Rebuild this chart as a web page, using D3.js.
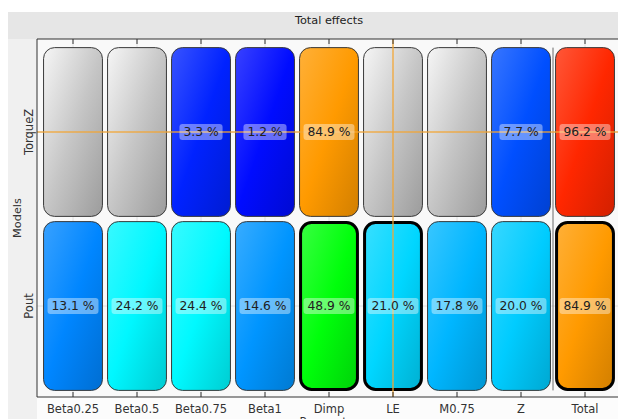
<!DOCTYPE html>
<html>
<head>
<meta charset="utf-8">
<script src="https://cdn.jsdelivr.net/npm/d3@7"></script>
<style>
  html, body { margin: 0; padding: 0; background: #ffffff; }
  svg { display: block; font-family: "DejaVu Sans", Verdana, sans-serif; }
</style>
</head>
<body>
<svg id="chart" width="618" height="419"></svg>
<script>
// Parameters on the horizontal axis, models on the vertical axis
const parameters = ["Beta0.25", "Beta0.5", "Beta0.75", "Beta1", "Dimp", "LE", "M0.75", "Z", "Total"];
const models = ["TorqueZ", "Pout"];

// Total-effect share (%) per parameter; null = not significant (grey cell)
const torqueZValues = [null, null, 3.3, 1.2, 84.9, null, null, 7.7, 96.2];
const poutValues = [13.1, 24.2, 24.4, 14.6, 48.9, 21.0, 17.8, 20.0, 84.9];

// Cells marked as selected (drawn with a heavy outline)
const torqueZSelected = [false, false, false, false, false, false, false, false, false];
const poutSelected = [false, false, false, false, true, true, false, false, true];

// Cursor position (crosshair)
const cursorParameter = "LE";
const cursorModel = "TorqueZ";

const valuesByModel = { TorqueZ: torqueZValues, Pout: poutValues };
const selectedByModel = { TorqueZ: torqueZSelected, Pout: poutSelected };

const cells = [];
models.forEach(m => {
  parameters.forEach((p, i) => {
    cells.push({ model: m, parameter: p, value: valuesByModel[m][i], selected: selectedByModel[m][i] });
  });
});

const svg = d3.select("#chart");
const W = 618, H = 419;

const frame = { left: 37, top: 39, right: 618, bottom: 397 };

// Background panels
svg.append("rect").attr("x", 8).attr("y", 12).attr("width", W - 8).attr("height", H - 12).attr("fill", "#ececec");
svg.append("rect").attr("x", 8).attr("y", 12).attr("width", W - 8).attr("height", frame.top - 12).attr("fill", "#e6e6e6");
svg.append("rect").attr("x", 8).attr("y", frame.top).attr("width", frame.left - 8).attr("height", H - frame.top).attr("fill", "#f0f0f0");
svg.append("rect").attr("x", frame.left).attr("y", frame.top).attr("width", frame.right - frame.left).attr("height", frame.bottom - frame.top).attr("fill", "#f9f9f9");
svg.append("rect").attr("x", frame.left).attr("y", frame.bottom).attr("width", frame.right - frame.left).attr("height", H - frame.bottom).attr("fill", "#fcfcfc");

// Scales
const x = d3.scaleBand().domain(parameters).range([41, 617]).paddingInner(0.08).paddingOuter(0.04);
const y = d3.scaleBand().domain(models).range([45, 393]).paddingInner(0.03).paddingOuter(0.015);
const xc = p => x(p) + x.bandwidth() / 2;
const yc = m => y(m) + y.bandwidth() / 2;

// Jet-like colour map over 0..100 %
const color = d3.scaleLinear()
  .domain([0, 25, 50, 75, 100])
  .range(["#0000ff", "#00ffff", "#00ff00", "#ffff00", "#ff0000"])
  .interpolate(d3.interpolateRgb)
  .clamp(true);
const emptyColor = "#c6c6c6";

// Faint grid through row and column centres
const grid = svg.append("g").attr("stroke", "#e0e0e0").attr("stroke-width", 1);
models.forEach(m => grid.append("line").attr("x1", frame.left).attr("x2", frame.right).attr("y1", yc(m)).attr("y2", yc(m)));
parameters.forEach(p => grid.append("line").attr("x1", xc(p)).attr("x2", xc(p)).attr("y1", frame.top).attr("y2", frame.bottom));

// Per-cell gradients: light at the upper left, darker at the lower right
const defs = svg.append("defs");
cells.forEach((d, i) => {
  const base = d.value == null ? emptyColor : color(d.value);
  const g = defs.append("linearGradient").attr("id", "cell-grad-" + i)
    .attr("x1", 0).attr("y1", 0).attr("x2", 1).attr("y2", 1);
  const light = d.value == null ? "#f6f6f6" : d3.interpolateRgb(base, "#ffffff")(0.22);
  const dark = d.value == null ? "#9c9c9c" : d3.color(base).darker(0.55).formatHex();
  g.append("stop").attr("offset", "0%").attr("stop-color", light);
  g.append("stop").attr("offset", "50%").attr("stop-color", base);
  g.append("stop").attr("offset", "100%").attr("stop-color", dark);
  d.grad = "url(#cell-grad-" + i + ")";
});

// Cells
svg.append("g").selectAll("rect").data(cells).join("rect")
  .attr("x", d => x(d.parameter) + (d.selected ? 1 : 0))
  .attr("y", d => y(d.model) + (d.selected ? 1 : 0))
  .attr("width", d => x.bandwidth() - (d.selected ? 2 : 0))
  .attr("height", d => y.bandwidth() - (d.selected ? 2 : 0))
  .attr("rx", 11).attr("ry", 11)
  .attr("fill", d => d.grad)
  .attr("stroke", d => d.selected ? "#000000" : "#3a3a3a")
  .attr("stroke-width", d => d.selected ? 3 : 1);

// Separator before the Total column
const sepX = (x("Z") + x.bandwidth() + x("Total")) / 2;
svg.append("line")
  .attr("x1", sepX).attr("x2", sepX)
  .attr("y1", y(models[0])).attr("y2", y(models[1]) + y.bandwidth())
  .attr("stroke", "#6a6a6a").attr("stroke-width", 1);

// Crosshair
const cross = svg.append("g").attr("stroke", "#f2a635").attr("stroke-opacity", 0.85).attr("stroke-width", 1.5);
cross.append("line").attr("x1", frame.left).attr("x2", frame.right).attr("y1", yc(cursorModel)).attr("y2", yc(cursorModel));
cross.append("line").attr("x1", xc(cursorParameter)).attr("x2", xc(cursorParameter)).attr("y1", frame.top).attr("y2", frame.bottom);

// Value labels
const labels = svg.append("g").selectAll("g").data(cells.filter(d => d.value != null)).join("g")
  .attr("transform", d => `translate(${xc(d.parameter)},${yc(d.model)})`);
labels.append("text")
  .attr("text-anchor", "middle").attr("dy", "0.36em")
  .attr("font-size", 12.3).attr("fill", "#202020")
  .text(d => d.value.toFixed(1) + " %");
labels.each(function() {
  const t = d3.select(this).select("text");
  const w = t.node().getComputedTextLength();
  d3.select(this).insert("rect", "text")
    .attr("x", -w / 2 - 4).attr("y", -8).attr("width", w + 8).attr("height", 16)
    .attr("rx", 3).attr("fill", "#ffffff").attr("fill-opacity", 0.4);
});

// Axes
const xBottom = d3.axisBottom(x).tickSizeInner(-5).tickSizeOuter(0).tickPadding(8);
const gxb = svg.append("g").attr("transform", `translate(0,${frame.bottom})`).call(xBottom);
gxb.select(".domain").attr("d", `M${frame.left},0H${frame.right}`).attr("stroke", "#333");
gxb.selectAll(".tick line").attr("stroke", "#333");
gxb.selectAll(".tick text").attr("font-size", 11.5).attr("fill", "#333").attr("font-family", "DejaVu Sans, sans-serif");

const xTop = d3.axisTop(x).tickSizeInner(-5).tickSizeOuter(0).tickFormat("");
const gxt = svg.append("g").attr("transform", `translate(0,${frame.top})`).call(xTop);
gxt.select(".domain").attr("d", `M${frame.left},0H${frame.right}`).attr("stroke", "#333");
gxt.selectAll(".tick line").attr("stroke", "#333");

const yLeft = d3.axisLeft(y).tickSizeInner(0).tickSizeOuter(0).tickPadding(0).tickFormat("");
const gyl = svg.append("g").attr("transform", `translate(${frame.left},0)`).call(yLeft);
gyl.select(".domain").attr("d", `M0,${frame.top}V${frame.bottom}`).attr("stroke", "#333");

// Row labels (rotated)
svg.append("g").selectAll("text").data(models).join("text")
  .attr("transform", m => `translate(33,${yc(m)}) rotate(-90)`)
  .attr("text-anchor", "middle")
  .attr("font-size", 11.5).attr("fill", "#333")
  .text(m => m);

// Axis titles
svg.append("text")
  .attr("transform", `translate(21,${(frame.top + frame.bottom) / 2}) rotate(-90)`)
  .attr("text-anchor", "middle").attr("font-size", 11.3).attr("fill", "#333")
  .text("Models");
svg.append("text")
  .attr("x", xc("Dimp")).attr("y", 425)
  .attr("text-anchor", "middle").attr("font-size", 11.3).attr("fill", "#333")
  .text("Parameter");

// Title
svg.append("text")
  .attr("x", xc("Dimp")).attr("y", 24)
  .attr("text-anchor", "middle").attr("font-size", 11.3).attr("fill", "#222")
  .text("Total effects");
</script>
</body>
</html>
